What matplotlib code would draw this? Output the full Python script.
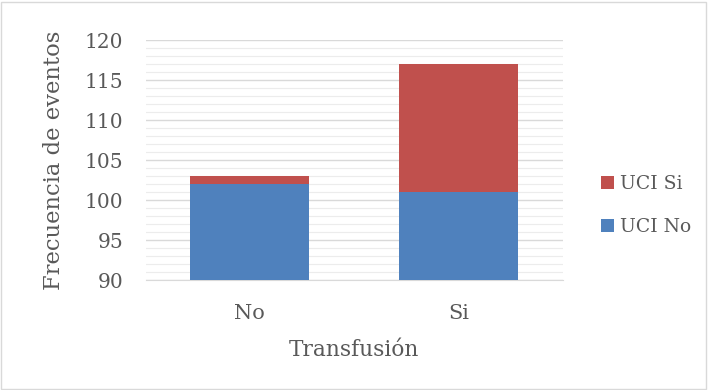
import numpy as np
import matplotlib
matplotlib.use("Agg")
import matplotlib.pyplot as plt
from matplotlib.patches import Rectangle

categories = ["No", "Si"]
uci_no = [102, 101]
uci_si = [1, 16]
base = 90
yticks = [90, 95, 100, 105, 110, 115, 120]

plt.rcParams['font.family'] = ['DejaVu Serif']
txt = "#595959"

fig = plt.figure(figsize=(7.08, 3.9), dpi=100)
ax = fig.add_axes([145.5 / 708, 1 - 280 / 390, 417 / 708, 240 / 390])

x = np.arange(len(categories))
no_h = [v - base for v in uci_no]
b1 = ax.bar(x, no_h, bottom=base, width=0.57, color="#4F81BD", label="UCI No", zorder=3)
b2 = ax.bar(x, uci_si, bottom=uci_no, width=0.57, color="#C0504D", label="UCI Si", zorder=3)

ax.set_xlim(-0.5, 1.5)
ax.set_ylim(90, 120)
ax.set_yticks(yticks)
ax.set_yticks(np.arange(90, 121, 1), minor=True)
ax.yaxis.grid(True, which="major", color="#d9d9d9", linewidth=1, zorder=0)
ax.yaxis.grid(True, which="minor", color="#ececec", linewidth=0.8, zorder=0)
ax.set_xticks(x)
ax.set_xticklabels(categories)
ax.tick_params(axis="both", which="both", length=0, colors=txt)
ax.tick_params(axis="y", labelsize=14.5, pad=16)
ax.tick_params(axis="x", labelsize=15, pad=17)
for s in ["top", "right", "left"]:
    ax.spines[s].set_visible(False)
ax.spines["bottom"].set_color("#d9d9d9")

ax.set_ylabel("Frecuencia de eventos", fontsize=16.3, color=txt, labelpad=14)
ax.set_xlabel("Transfusión", fontsize=15.7, color=txt, labelpad=12)

leg = ax.legend(handles=[b2, b1], loc="center left", bbox_to_anchor=(1.07, 0.31),
                frameon=False, fontsize=13.5, handlelength=0.7, handleheight=0.7,
                labelspacing=1.3, handletextpad=0.3, borderpad=0)
for t in leg.get_texts():
    t.set_color(txt)

fig.patches.append(Rectangle((0.002, 0.003), 0.995, 0.993, transform=fig.transFigure,
                             fill=False, edgecolor="#d9d9d9", linewidth=1))

fig.savefig("out.png", dpi=100)
